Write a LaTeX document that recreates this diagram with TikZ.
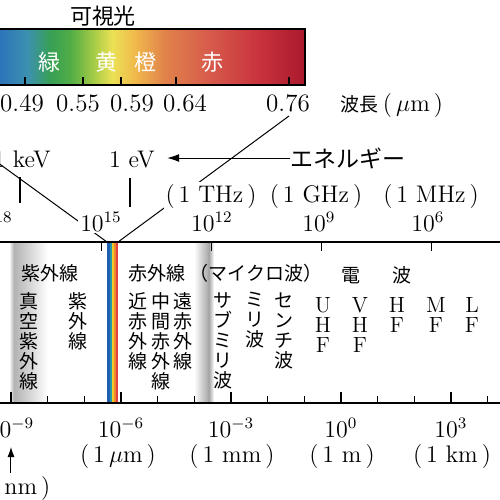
\documentclass[tikz,border=0pt]{standalone}
\usepackage{fontspec}
\newfontfamily\jp{Noto Sans CJK JP}
\usetikzlibrary{arrows.meta}

% colours of the enlarged visible band
\definecolor{spA}{RGB}{45,115,185}
\definecolor{spB}{RGB}{60,145,175}
\definecolor{spC}{RGB}{55,160,85}
\definecolor{spD}{RGB}{80,172,70}
\definecolor{spE}{RGB}{170,205,70}
\definecolor{spF}{RGB}{235,225,85}
\definecolor{spG}{RGB}{240,185,75}
\definecolor{spH}{RGB}{225,130,75}
\definecolor{spI}{RGB}{215,90,75}
\definecolor{spJ}{RGB}{200,50,60}
\definecolor{spK}{RGB}{170,25,45}
% thin rainbow on the wavelength scale
\definecolor{rbA}{RGB}{30,95,175}
\definecolor{rbB}{RGB}{40,150,170}
\definecolor{rbC}{RGB}{240,200,40}
\definecolor{rbD}{RGB}{240,135,40}
\definecolor{rbE}{RGB}{225,65,65}

\begin{document}
\begin{tikzpicture}[x=0.5pt,y=-0.5pt,
    num/.style={inner sep=0pt,anchor=base,font=\fontsize{12}{14}\selectfont},
    topnum/.style={inner sep=0pt,anchor=base,font=\fontsize{12.5}{14}\selectfont},
    jtitle/.style={inner sep=0pt,font=\jp\fontsize{11}{12}\selectfont},
    jhead/.style={inner sep=0pt,font=\jp\fontsize{9.5}{10}\selectfont},
    jcol/.style={jhead,anchor=north,align=center},
    lcol/.style={inner sep=0pt,anchor=north,align=center,font=\fontsize{11}{10}\selectfont},
    colname/.style={inner sep=0pt,text=white,font=\jp\fontsize{11}{12}\selectfont},
    axisline/.style={line width=0.9pt},
    axtick/.style={line width=0.6pt}]
  \useasboundingbox (0,0) rectangle (500,500);
  \clip (0,0) rectangle (500,500);

  % enlarged visible band
  \fill[spA] (-90,29) rectangle (0,85);
  \foreach \xa/\ca/\xb/\cb in {0/spA/28/spB, 28/spB/50/spC, 50/spC/70/spD, 70/spD/95/spE,
      95/spE/112/spF, 112/spF/135/spG, 135/spG/165/spH, 165/spH/210/spI,
      210/spI/260/spJ, 260/spJ/305/spK}
    \shade[left color=\ca, right color=\cb] (\xa,29) rectangle (\xb,85);
  \draw[line width=0.6pt] (-90,29) rectangle (305,85);
  \foreach \x in {25,83,121,176,289}
    \draw[axtick] (\x,85) -- (\x,77);
  \node[jtitle] (kashi) at (103,16) {可視光};
  \node[colname] (ao) at (-9,62) {青};
  \node[colname] (midori) at (50,62) {緑};
  \node[colname] (ki) at (107,62) {黄};
  \node[colname] (daidai) at (145,62) {橙};
  \node[colname] (aka) at (213,62) {赤};
  \node[topnum] (lamA) at (22,111) {0.49};
  \node[topnum] (lamB) at (78,111) {0.55};
  \node[topnum] (lamC) at (132,111) {0.59};
  \node[topnum] (lamD) at (185,111) {0.64};
  \node[topnum] (lamE) at (288,111) {0.76};
  \node[num] (hacho) at (392,111) {{\jp\fontsize{9.5}{10}\selectfont 波長}\,(\,$\mu$m\,)};

  % funnel from the bar down to the scale
  \coordinate (fL0) at (-72,112);
  \coordinate (fL1) at (107,242);
  \coordinate (fR0) at (289,116);
  \coordinate (fR1) at (118,242);
  \draw[line width=0.5pt] (fL0) -- (fL1);
  \draw[line width=0.5pt] (fR0) -- (fR1);

  % energy
  \node[num] (kev) at (22,167) {1 keV};
  \node[num] (ev) at (132,167) {1 eV};
  \node[jtitle,font=\jp\fontsize{11.5}{12}\selectfont] (ene) at (348,158) {エネルギー};
  \draw[line width=0.5pt,-{Latex[length=6pt,width=4pt]},shorten >=6pt]
    (ene.west) -- (ene.west -| ev.east);
  \draw[axtick] (20,177) -- (20,203);
  \draw[axtick] (130,178) -- (130,207);

  % frequency (Hz)
  \node[num,fill=white,inner sep=1pt] (thz) at (211,202) {(\,1 THz\,)};
  \node[num] (ghz) at (316,202) {(\,1 GHz\,)};
  \node[num] (mhz) at (431,202) {(\,1 MHz\,)};
  \node[num] (fA) at (-8,231) {$10^{18}$};
  \node[num,fill=white,inner sep=1pt] (fB) at (101,231) {$10^{15}$};
  \node[num] (fC) at (212,231) {$10^{12}$};
  \node[num] (fD) at (319,231) {$10^{9}$};
  \node[num] (fE) at (428,231) {$10^{6}$};

  % blurred boundaries
  \shade[left color=white, right color=black!30] (9,243) rectangle (14,402);
  \shade[left color=black!30, right color=white] (14,243) rectangle (48,402);
  \shade[left color=white, right color=black!35] (194,243) rectangle (209,402);
  \shade[left color=black!35, right color=white] (209,243) rectangle (214,402);

  % visible light on the scale
  \foreach \c [count=\i from 0] in {rbA,rbB,rbC,rbD,rbE}
    \fill[\c] ({107.5+2.2*\i},242) rectangle ({107.5+2.2*(\i+1)},403);

  % scale lines and ticks
  \draw[axisline] (0,242) -- (500,242);
  \draw[axisline] (0,403) -- (500,403);
  \foreach \m in {18,15,...,6}
    \draw[axtick] ({341+36.67*(8.477-\m)},242) -- ++(0,9);
  \foreach \k in {-10,...,4} {
    \pgfmathsetmacro\tl{mod(\k,3)==0 ? 11 : 7}
    \draw[axtick] ({341+36.67*\k},403) -- ++(0,-\tl);
  }

  % regions
  \node[jhead] (shigaiH) at (50,273) {紫外線};
  \node[jhead] (sekigaiH) at (157,273) {赤外線};
  \node[jhead] (micro) at (256,273) {（マイクロ波）};
  \node[jhead] (denpa) at (377,275) {電\hspace{16pt}波};
  \node[jcol] (shinku) at (29,292) {真\\空\\紫\\外\\線};
  \node[jcol] (shigai) at (78,292) {紫\\外\\線};
  \node[jcol] (kin) at (138,292) {近\\赤\\外\\線};
  \node[jcol] (chukan) at (161,292) {中\\間\\赤\\外\\線};
  \node[jcol] (en) at (183,292) {遠\\赤\\外\\線};
  \node[jcol] (submm) at (223,292) {サ\\ブ\\ミ\\リ\\波};
  \node[jcol] (mmw) at (255,292) {ミ\\リ\\波};
  \node[jcol] (cmw) at (284,292) {セ\\ン\\チ\\波};
  \node[lcol] (uhf) at (323,297) {U\\H\\F};
  \node[lcol] (vhf) at (360,297) {V\\H\\F};
  \node[lcol] (hf) at (397,297) {H\\F};
  \node[lcol] (mf) at (436,297) {M\\F};
  \node[lcol] (lf) at (472,297) {L\\F};
  \node[lcol] (vlf) at (508,297) {V\\L\\F};

  % wavelength (m)
  \node[num] (wA) at (11,437) {$10^{-9}$};
  \node[num] (wB) at (121,437) {$10^{-6}$};
  \node[num] (wC) at (231,437) {$10^{-3}$};
  \node[num] (wD) at (341,437) {$10^{0}$};
  \node[num] (wE) at (451,437) {$10^{3}$};
  \node[num] (uB) at (118,462) {(\,1\,$\mu$m\,)};
  \node[num] (uC) at (232,462) {(\,1 mm\,)};
  \node[num] (uD) at (342,462) {(\,1 m\,)};
  \node[num] (uE) at (452,462) {(\,1 km\,)};
  \node[num] (uA) at (11,494) {(\,1 nm\,)};
  \coordinate (nmtip) at (11,447);
  \draw[line width=0.5pt,-{Latex[length=5pt,width=3.5pt]}] (uA.north) ++(0,-3) -- (nmtip);
\end{tikzpicture}
\end{document}
